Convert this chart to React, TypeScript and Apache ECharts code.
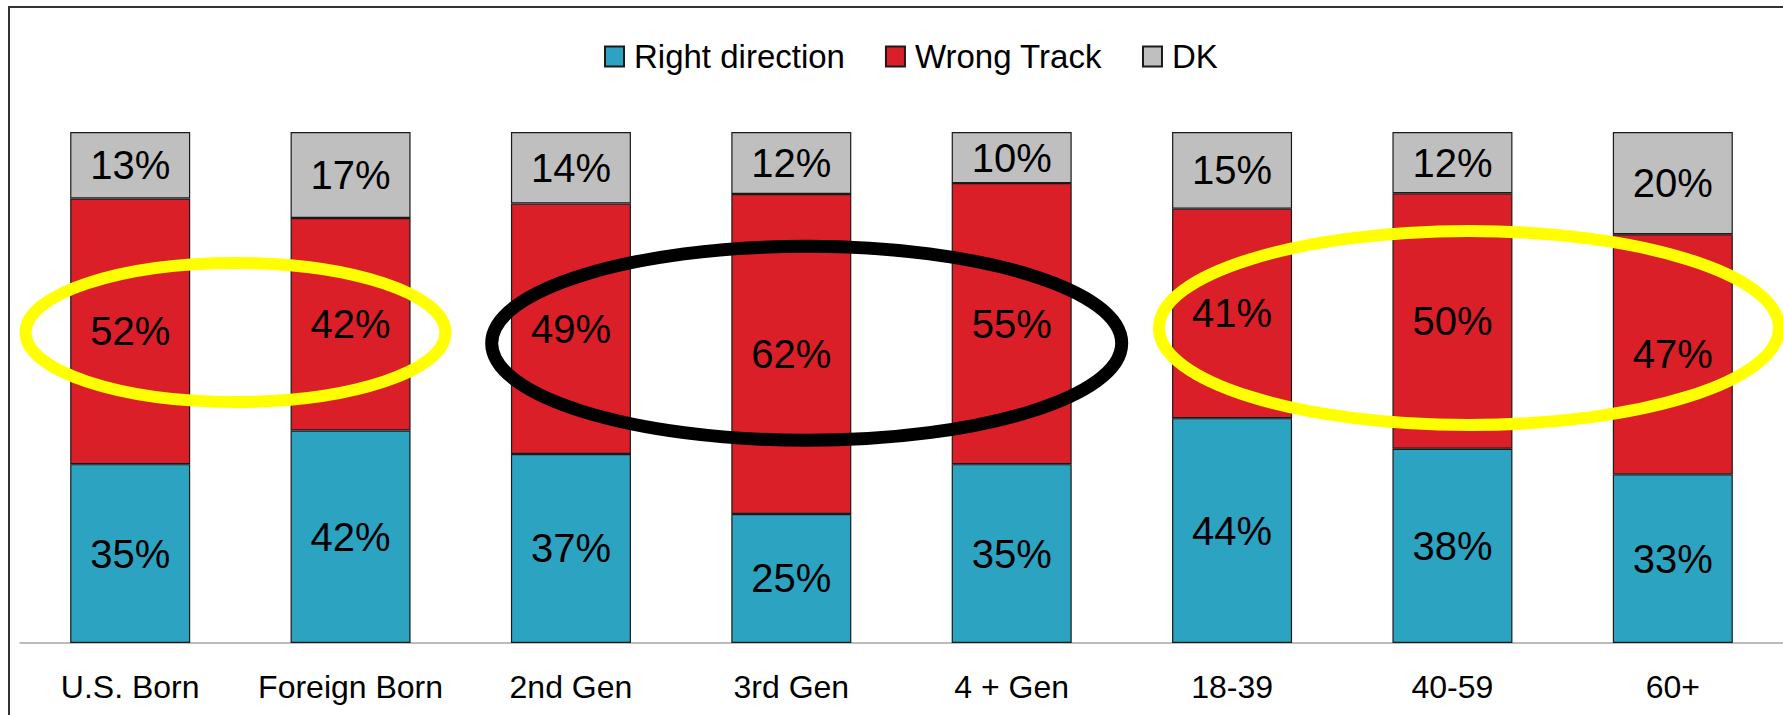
import React, { useEffect, useRef } from "react";
import * as echarts from "echarts";

const categories = ["U.S. Born", "Foreign Born", "2nd Gen", "3rd Gen", "4 + Gen", "18-39", "40-59", "60+"];
const rightDirection = [35, 42, 37, 25, 35, 44, 38, 33];
const wrongTrack = [52, 42, 49, 62, 55, 41, 50, 47];
const dontKnow = [13, 17, 14, 12, 10, 15, 12, 20];
const seriesNames = ["Right direction", "Wrong Track", "DK"];
const seriesColors = ["#2CA3C0", "#DA1F28", "#BFBFBF"];

const FONT = "'Liberation Sans', Arial, sans-serif";

export default function App() {
  const ref = useRef<HTMLDivElement>(null);

  useEffect(() => {
    if (!ref.current) return;
    const chart = echarts.init(ref.current, null, { renderer: "svg" });
    const totals = categories.map((_, i) => rightDirection[i] + wrongTrack[i] + dontKnow[i]);
    const raw = [rightDirection, wrongTrack, dontKnow];

    const series = raw.map((arr, si) => ({
      name: seriesNames[si],
      type: "bar",
      stack: "total",
      barWidth: 120,
      data: arr.map((v, i) => (v * 100) / totals[i]),
      itemStyle: { color: seriesColors[si], borderColor: "#1a1a1a", borderWidth: 1.2 },
      label: {
        show: true,
        position: "inside",
        fontFamily: FONT,
        fontSize: 40,
        color: "#000",
        formatter: (p: any) => arr[p.dataIndex] + "%",
      },
      emphasis: { disabled: true },
    }));

    chart.setOption({
      animation: false,
      backgroundColor: "#fff",
      textStyle: { fontFamily: FONT },
      legend: {
        left: 599,
        top: 35,
        itemWidth: 19,
        itemHeight: 20,
        itemGap: 40,
        icon: "rect",
        data: seriesNames,
        textStyle: { fontFamily: FONT, fontSize: 33, color: "#000", lineHeight: 33, padding: [0, 0, 0, 5] },
      },
      grid: { left: 20, right: -8, top: 132, bottom: 72, containLabel: false },
      xAxis: {
        type: "category",
        data: categories,
        axisTick: { show: false },
        axisLine: { lineStyle: { color: "#A6A6A6", width: 1.5 } },
        axisLabel: { fontFamily: FONT, fontSize: 32, color: "#000", margin: 28, lineHeight: 32, interval: 0 },
      },
      yAxis: { type: "value", min: 0, max: 100, show: false, splitLine: { show: false } },
      series,
      graphic: [
        {
          type: "rect",
          z: 100,
          shape: { x: 9, y: 7, width: 1900, height: 900 },
          style: { fill: "none", stroke: "#333", lineWidth: 2 },
          silent: true,
        },
        {
          type: "ellipse",
          z: 100,
          shape: { cx: 235.5, cy: 332.5, rx: 210, ry: 69.5 },
          style: { fill: "none", stroke: "#FFFF00", lineWidth: 12 },
          silent: true,
        },
        {
          type: "ellipse",
          z: 100,
          shape: { cx: 806.7, cy: 343.3, rx: 315, ry: 97 },
          style: { fill: "none", stroke: "#000000", lineWidth: 13 },
          silent: true,
        },
        {
          type: "ellipse",
          z: 100,
          shape: { cx: 1469, cy: 328, rx: 310, ry: 97 },
          style: { fill: "none", stroke: "#FFFF00", lineWidth: 12 },
          silent: true,
        },
      ],
    });
    return () => chart.dispose();
  }, []);

  return (
    <div
      ref={ref}
      style={{ position: "fixed", left: 0, top: 0, width: 1783, height: 715, background: "#fff" }}
    />
  );
}
